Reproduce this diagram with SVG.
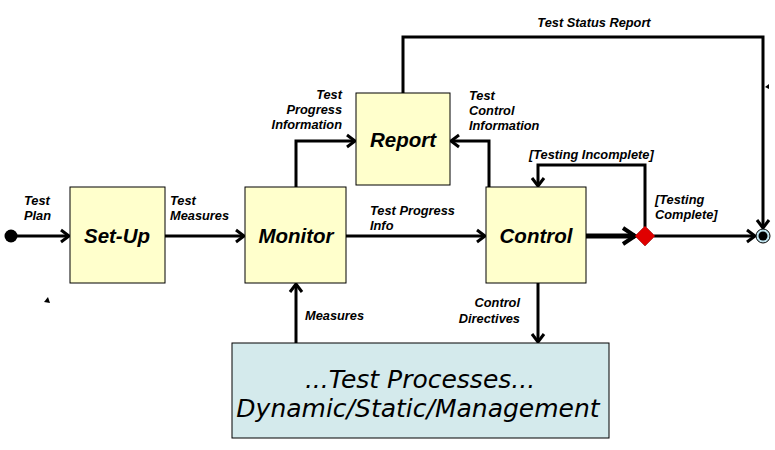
<svg xmlns="http://www.w3.org/2000/svg" width="775" height="450" viewBox="0 0 775 450">
<style>
.box{fill:#FFFFCC;stroke:#000;stroke-width:1}
.proc{fill:#D4EAEC;stroke:#000;stroke-width:1}
.ln{fill:none;stroke:#000;stroke-width:3}
.lab{font-family:"Liberation Sans",Arial,sans-serif;font-weight:bold;font-style:italic;font-size:12.8px;fill:#000}
.title{font-family:"Liberation Sans",Arial,sans-serif;font-weight:bold;font-style:italic;font-size:20.5px;fill:#000;text-anchor:middle}
.big{font-family:"DejaVu Sans",Verdana,sans-serif;font-style:italic;font-size:25px;fill:#000;text-anchor:middle}
</style>
<defs>
<marker id="ar" markerUnits="userSpaceOnUse" markerWidth="16" markerHeight="16" refX="11" refY="8" orient="auto" overflow="visible">
<path d="M3,2 L11,8 L3,14" fill="none" stroke="#000" stroke-width="3"/>
</marker>
<marker id="arb" markerUnits="userSpaceOnUse" markerWidth="20" markerHeight="20" refX="15" refY="10" orient="auto" overflow="visible">
<path d="M3,2 L15,10 L3,18" fill="none" stroke="#000" stroke-width="4"/>
</marker>
</defs>
<g id="connectors">
<line class="ln" x1="17" y1="236" x2="69" y2="236" marker-end="url(#ar)"/>
<line class="ln" x1="165" y1="236" x2="244" y2="236" marker-end="url(#ar)"/>
<line class="ln" x1="346" y1="236" x2="485" y2="236" marker-end="url(#ar)"/>
<polyline class="ln" points="296,187 296,141 355,141" marker-end="url(#ar)"/>
<polyline class="ln" points="489,187 489,141 451,141" marker-end="url(#ar)"/>
<polyline class="ln" points="403,93 403,37 763,37 763,228" marker-end="url(#ar)"/>
<line x1="586" y1="236" x2="635" y2="236" stroke="#000" stroke-width="5" marker-end="url(#arb)"/>
<polyline class="ln" points="645,227 645,165 538,165 538,186" marker-end="url(#ar)"/>
<line class="ln" x1="654" y1="236" x2="755" y2="236" marker-end="url(#ar)"/>
<line class="ln" x1="296" y1="343" x2="296" y2="284" marker-end="url(#ar)"/>
<line class="ln" x1="538" y1="283" x2="538" y2="342" marker-end="url(#ar)"/>
</g>
<g id="start"><circle cx="11" cy="236" r="6.5" fill="#000"/></g>
<g id="setup"><rect class="box" x="70" y="187" width="95" height="96"/><text class="title" x="117" y="243">Set-Up</text></g>
<g id="monitor"><rect class="box" x="245" y="187" width="101" height="96"/><text class="title" x="296" y="243">Monitor</text></g>
<g id="report"><rect class="box" x="356" y="93" width="94" height="92"/><text class="title" x="403" y="147">Report</text></g>
<g id="control"><rect class="box" x="486" y="187" width="100" height="96"/><text class="title" x="536" y="243">Control</text></g>
<g id="decision"><polygon points="645,226 655,236 645,246 635,236" fill="#E00000" stroke="#800000" stroke-width="0.5"/></g>
<g id="end"><circle cx="763" cy="236" r="7" fill="#BFE3EE" stroke="#000" stroke-width="1"/><circle cx="763" cy="236" r="4.5" fill="#000"/></g>
<g id="processes"><rect class="proc" x="232" y="343" width="377" height="95"/>
<text class="big" x="420" y="388">...Test Processes...</text>
<text class="big" x="418" y="417">Dynamic/Static/Management</text></g>
<g id="labels">
<text class="lab" x="24" y="205">Test</text><text class="lab" x="24" y="220">Plan</text>
<text class="lab" x="170" y="205">Test</text><text class="lab" x="170" y="220">Measures</text>
<text class="lab" x="370" y="215">Test Progress</text><text class="lab" x="370" y="230">Info</text>
<text class="lab" x="342" y="99" text-anchor="end">Test</text><text class="lab" x="342" y="114" text-anchor="end">Progress</text><text class="lab" x="342" y="129" text-anchor="end">Information</text>
<text class="lab" x="469" y="100">Test</text><text class="lab" x="469" y="115">Control</text><text class="lab" x="469" y="130">Information</text>
<text class="lab" x="529" y="159">[Testing Incomplete]</text>
<text class="lab" x="655" y="204">[Testing</text><text class="lab" x="655" y="219">Complete]</text>
<text class="lab" x="594" y="27" text-anchor="middle">Test Status Report</text>
<text class="lab" x="305" y="320">Measures</text>
<text class="lab" x="520" y="307" text-anchor="end">Control</text><text class="lab" x="520" y="323" text-anchor="end">Directives</text>
</g>
<g id="marks"><polygon points="44,302 48,297 50,303" fill="#000"/><polygon points="765,87 769,84 769,89" fill="#000"/></g>
</svg>
